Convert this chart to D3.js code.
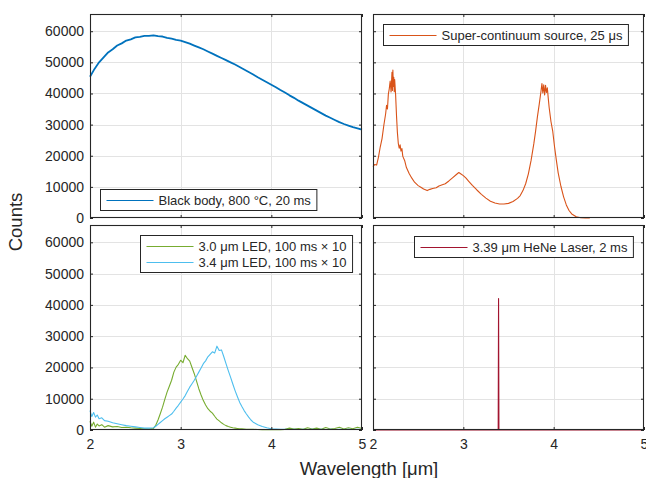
<!DOCTYPE html>
<html>
<head>
<meta charset="utf-8">
<script src="https://cdn.jsdelivr.net/npm/d3@7"></script>
<style>
    body { margin: 0; background: #fff; }
    text { font-family: "Liberation Sans", Arial, Helvetica, sans-serif; fill: #262626; }
    .grid line { stroke: #e3e3e3; stroke-width: 1; }
    .axis line { stroke: #262626; }
    .axis path { display: none; }
    .frame { fill: none; stroke: #262626; stroke-width: 1.1; }
</style>
</head>
<body>
<script>
//wrap everything in a self-executing anonymous function
(function(){

    //tick values shared by all four panels
    var xTicks = [2, 3, 4, 5];
    var yTicks = [0, 10000, 20000, 30000, 40000, 50000, 60000];
    var yMax = 65535; //16-bit detector

    //black body, 800 C (wavelength um / counts)
    var bbWl = [2.00,2.05,2.10,2.15,2.20,2.25,2.30,2.35,2.40,2.45,2.50,2.55,2.60,2.65,2.70,2.75,2.80,2.85,2.90,2.95,
        3.00,3.05,3.10,3.15,3.20,3.25,3.30,3.35,3.40,3.45,3.50,3.55,3.60,3.65,3.70,3.75,3.80,3.85,3.90,3.95,
        4.00,4.05,4.10,4.15,4.20,4.25,4.30,4.35,4.40,4.45,4.50,4.55,4.60,4.65,4.70,4.75,4.80,4.85,4.90,4.95,5.00];
    var bbCounts = [45400,47900,50000,51600,53200,54200,55400,56100,57000,57400,58000,58200,58500,58500,58700,58400,58300,57900,57600,57200,
        57000,56500,56000,55400,54800,54200,53500,52800,52100,51400,50700,50000,49300,48500,47700,46900,46100,45200,44400,43600,
        42800,42000,41100,40300,39400,38600,37700,36900,36100,35300,34500,33700,32900,32200,31500,30800,30200,29700,29200,28800,28400];

    //super-continuum source
    var scWl = [2.00,2.02,2.04,2.06,2.08,2.10,2.12,2.14,2.15,2.16,2.17,2.18,2.19,2.20,2.21,2.215,2.22,2.225,2.23,2.235,2.24,2.25,
        2.26,2.27,2.28,2.29,2.30,2.31,2.32,2.33,2.35,2.37,2.40,2.43,2.46,2.50,2.53,2.56,2.60,2.63,2.66,2.70,2.73,2.76,2.80,
        2.84,2.88,2.92,2.95,2.97,3.00,3.03,3.06,3.10,3.15,3.20,3.25,3.30,3.35,3.40,3.45,3.50,3.55,3.60,3.63,3.66,3.69,3.72,
        3.75,3.78,3.80,3.82,3.84,3.86,3.87,3.88,3.89,3.90,3.91,3.92,3.93,3.94,3.95,3.97,3.99,4.01,4.03,4.05,4.08,4.11,4.14,
        4.17,4.20,4.25,4.30,4.35,4.40];
    var scCounts = [16500,17200,17000,19500,22800,25500,29800,33500,36200,35000,39800,41500,44000,40500,46800,41000,47500,42300,45200,40600,44500,39800,
        33000,27500,24000,22400,23500,21500,22300,19800,18500,16200,14300,12800,11500,10400,9900,9300,8800,9200,9500,9700,10300,10600,11000,
        11900,12900,13900,14600,14200,13600,12800,11800,10500,9000,7600,6400,5400,4800,4500,4500,4700,5300,6300,7200,8800,11000,14200,
        18500,23800,27900,32500,36500,40800,43200,40200,42800,39500,42600,40300,41800,38500,35500,31000,27800,22800,18500,14500,10200,6800,4200,
        2400,1300,400,100,0,0];

    //LED wavelengths (shared by both LEDs)
    var ledWl = [2.00,2.02,2.04,2.06,2.08,2.10,2.13,2.16,2.20,2.25,2.30,2.35,2.40,2.45,2.50,2.55,2.60,2.65,2.70,
        2.725,2.75,2.775,2.80,2.825,2.85,2.875,2.90,2.925,2.95,2.975,3.00,3.025,3.05,3.075,3.10,3.125,3.15,3.175,3.20,
        3.225,3.25,3.275,3.30,3.325,3.35,3.375,3.40,3.425,3.45,3.475,3.50,3.525,3.55,3.575,3.60,3.625,3.65,3.675,3.70,
        3.725,3.75,3.775,3.80,3.85,3.90,3.95,4.00,4.05,4.10,4.15,4.20,4.25,4.30,4.35,4.40,4.45,4.50,4.55,4.60,4.65,4.70,
        4.75,4.80,4.85,4.90,4.95,5.00];
    //3.0 um LED, 100 ms x 10
    var led30Counts = [2800,1200,2500,900,1900,1300,1700,900,1400,1000,1100,800,900,700,600,500,400,300,500,
        1500,3200,5200,7300,9800,12100,14000,15900,18500,20100,21000,22300,21500,23900,22800,22000,20000,18000,15600,13200,
        11200,9400,8000,6800,6000,5400,4400,3500,2900,2300,1800,1400,1100,900,700,600,500,400,350,300,
        250,200,200,200,150,100,100,100,150,100,200,600,300,500,200,700,300,600,200,800,300,500,
        900,300,700,400,900,500];
    //3.4 um LED, 100 ms x 10
    var led34Counts = [6200,4300,5600,4100,4800,3600,3900,3000,2800,2300,2000,1700,1400,1200,1000,800,600,600,700,
        1200,1800,2400,3000,3600,4100,4600,5100,6000,7000,7900,8900,9900,11000,12400,13700,14800,15900,17200,18500,
        19800,21200,22100,23400,24200,25000,24600,26800,25400,25600,23500,21200,19000,16900,14700,12600,10700,8900,7500,6200,
        5100,4100,3200,2500,1700,1100,700,400,300,200,200,150,200,150,200,150,200,150,200,150,200,150,
        200,150,200,150,200,150];

    //3.39 um HeNe laser, 2 ms
    var heneWl = [2.00, 3.386, 3.390, 3.394, 5.00];
    var heneCounts = [0, 0, 42000, 0, 0];

    //figure size and panel frames
    var width = 646,
        height = 478;
    var colX = [[90, 362], [373, 644]];
    var rowY = [[218, 14], [430, 225]];

    //panel definitions: which data goes where, plus legend placement
    var panels = [
        {col: 0, row: 0, yLabels: true, xLabels: false,
            series: [{x: bbWl, y: bbCounts, color: "#0072BD", w: 1.8, name: "Black body, 800 °C, 20 ms"}],
            legend: {side: "left", dx: 10, dy: -29}},
        {col: 1, row: 0, yLabels: false, xLabels: false,
            series: [{x: scWl, y: scCounts, color: "#D95319", w: 1.1, name: "Super-continuum source, 25 μs"}],
            legend: {side: "left", dx: 10, dy: 10}},
        {col: 0, row: 1, yLabels: true, xLabels: true,
            series: [{x: ledWl, y: led30Counts, color: "#77AC30", w: 1.1, name: "3.0 μm LED, 100 ms \u00D7 10"},
                     {x: ledWl, y: led34Counts, color: "#4DBEEE", w: 1.1, name: "3.4 μm LED, 100 ms \u00D7 10"}],
            legend: {side: "right", dx: -10, dy: 10}},
        {col: 1, row: 1, yLabels: false, xLabels: true,
            series: [{x: heneWl, y: heneCounts, color: "#A2142F", w: 1.1, name: "3.39 μm HeNe Laser, 2 ms"}],
            legend: {side: "right", dx: -11, dy: 11}}
    ];

    var svg = d3.select("body")
        .append("svg")
        .attr("width", width)
        .attr("height", height);

    panels.forEach(drawPanel);

    function drawPanel(p){
        var x = d3.scaleLinear().domain([2, 5]).range(colX[p.col]);
        var y = d3.scaleLinear().domain([0, yMax]).range(rowY[p.row]);
        var x0 = colX[p.col][0], x1 = colX[p.col][1],
            y0 = rowY[p.row][1], y1 = rowY[p.row][0];

        var g = svg.append("g");

        //grid lines
        var grid = g.append("g").attr("class", "grid");
        grid.selectAll(".gx")
            .data(xTicks.slice(1, -1))
            .enter()
            .append("line")
            .attr("x1", function(d){ return Math.round(x(d)) + 0.5; })
            .attr("x2", function(d){ return Math.round(x(d)) + 0.5; })
            .attr("y1", y0)
            .attr("y2", y1);
        grid.selectAll(".gy")
            .data(yTicks.slice(1))
            .enter()
            .append("line")
            .attr("x1", x0)
            .attr("x2", x1)
            .attr("y1", function(d){ return Math.round(y(d)) + 0.5; })
            .attr("y2", function(d){ return Math.round(y(d)) + 0.5; });

        //data lines
        var line = d3.line()
            .x(function(d){ return x(d[0]); })
            .y(function(d){ return y(d[1]); });

        p.series.forEach(function(s){
            g.append("path")
                .datum(d3.zip(s.x, s.y))
                .attr("fill", "none")
                .attr("stroke", s.color)
                .attr("stroke-width", s.w)
                .attr("stroke-linejoin", "round")
                .attr("d", line);
        });

        //axes with inward ticks on all four sides
        var left = g.append("g")
            .attr("class", "axis")
            .attr("transform", "translate(" + x0 + ",0)")
            .call(d3.axisLeft(y).tickValues(yTicks).tickSize(-3).tickPadding(6)
                .tickFormat(p.yLabels ? d3.format("d") : ""));
        left.selectAll("text").style("font-size", "14px");

        g.append("g")
            .attr("class", "axis")
            .attr("transform", "translate(" + x1 + ",0)")
            .call(d3.axisRight(y).tickValues(yTicks).tickSize(-3).tickFormat(""));

        var bottom = g.append("g")
            .attr("class", "axis")
            .attr("transform", "translate(0," + y1 + ")")
            .call(d3.axisBottom(x).tickValues(xTicks).tickSize(-3).tickPadding(9)
                .tickFormat(p.xLabels ? d3.format("d") : ""));
        bottom.selectAll("text").style("font-size", "14px");

        g.append("g")
            .attr("class", "axis")
            .attr("transform", "translate(0," + y0 + ")")
            .call(d3.axisTop(x).tickValues(xTicks).tickSize(-3).tickFormat(""));

        //frame
        g.append("rect")
            .attr("class", "frame")
            .attr("x", x0 + 0.5)
            .attr("y", y0 + 0.5)
            .attr("width", x1 - x0 - 1)
            .attr("height", y1 - y0 - 1);

        drawLegend(g, p, x0, x1, y0, y1);
    }

    function drawLegend(g, p, x0, x1, y0, y1){
        var rowH = 16,
            lineLen = 47,
            padL = 6,
            gap = 5,
            padR = 6,
            boxH = p.series.length * rowH + 5;

        var leg = g.append("g");
        var box = leg.append("rect")
            .attr("fill", "#fff")
            .attr("stroke", "#262626")
            .attr("stroke-width", 1)
            .attr("height", boxH);

        var labels = leg.selectAll(".entry")
            .data(p.series)
            .enter()
            .append("text")
            .attr("x", padL + lineLen + gap)
            .attr("y", function(d, i){ return 3 + i * rowH + rowH / 2; })
            .attr("dy", "0.35em")
            .style("font-size", "13px")
            .text(function(d){ return d.name; });

        leg.selectAll(".swatch")
            .data(p.series)
            .enter()
            .append("line")
            .attr("x1", padL)
            .attr("x2", padL + lineLen)
            .attr("y1", function(d, i){ return 3 + i * rowH + rowH / 2; })
            .attr("y2", function(d, i){ return 3 + i * rowH + rowH / 2; })
            .attr("stroke", function(d){ return d.color; })
            .attr("stroke-width", 1.2);

        var textW = d3.max(labels.nodes(), function(n){ return n.getComputedTextLength(); });
        var boxW = padL + lineLen + gap + textW + padR;
        box.attr("width", boxW);

        var lx = p.legend.side == "left" ? x0 + p.legend.dx : x1 + p.legend.dx - boxW;
        var ly = p.legend.dy < 0 ? y1 + p.legend.dy : y0 + p.legend.dy;
        leg.attr("transform", "translate(" + (Math.round(lx) + 0.5) + "," + (Math.round(ly) + 0.5) + ")");
    }

    //shared axis titles
    svg.append("text")
        .attr("x", 369)
        .attr("y", 475)
        .attr("text-anchor", "middle")
        .style("font-size", "18.5px")
        .text("Wavelength [μm]");

    svg.append("text")
        .attr("transform", "translate(22,222)rotate(-90)")
        .attr("text-anchor", "middle")
        .style("font-size", "18.5px")
        .text("Counts");

})();
</script>
</body>
</html>
